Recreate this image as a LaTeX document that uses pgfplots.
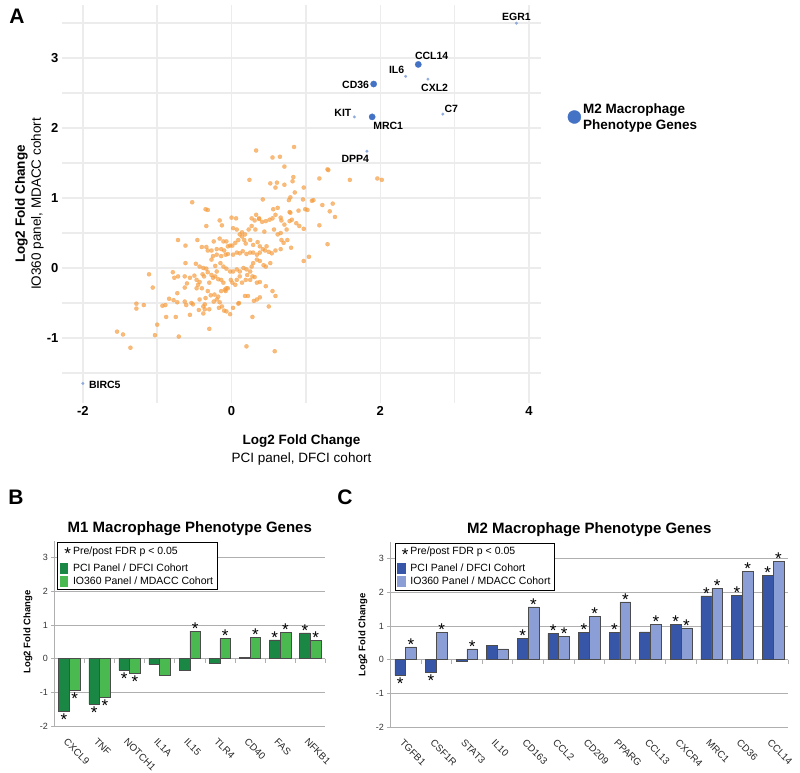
\documentclass[border=0pt]{standalone}
\usepackage{fontspec}
\setmainfont{Liberation Sans}
\usepackage{pgfplots}
\pgfplotsset{compat=1.18}
\definecolor{orangept}{RGB}{245,155,60}
\definecolor{bluebig}{RGB}{68,114,196}
\definecolor{bluesmall}{RGB}{143,170,220}
\definecolor{gridA}{RGB}{236,236,236}
\definecolor{dkgreen}{RGB}{26,136,68}
\definecolor{ltgreen}{RGB}{74,186,80}
\definecolor{dkblue}{RGB}{56,86,168}
\definecolor{ltblue}{RGB}{140,158,214}
\definecolor{gridB}{RGB}{175,175,175}
\newcommand{\lab}{\fontsize{10.5}{10.5}\selectfont\bfseries}
\pgfplotsset{
  barpanel/.style={
    scale only axis, height=185pt,
    xmin=-0.5, ymin=-2, ymax=3.5,
    ybar=0pt,
    ytick={-2,-1,0,1,2,3},
    ymajorgrids, grid style={gridB, line width=0.7pt},
    axis line style={draw=none},
    xtick style={draw=none},
    ytick style={gridB, line width=0.7pt}, tick align=outside, major tick length=3pt, ytick pos=left,
    /pgf/number format/assume math mode=true,
    ticklabel style={font=\fontsize{9}{9}\selectfont, text=black!80},
    xticklabel style={rotate=-45, anchor=north west, inner sep=0pt, yshift=-7pt, xshift=5pt, font=\fontsize{9.8}{9.8}\selectfont, text=black!85},
    ylabel={Log2 Fold Change},
    title style={font=\fontsize{15}{15}\selectfont\bfseries, at={(axis description cs:0.5,1)}, anchor=south, yshift=-4pt},
    ylabel style={font=\fontsize{9.5}{9.5}\selectfont\bfseries, anchor=center},
    point meta=explicit symbolic,
    visualization depends on={rawy \as \rawy},
    nodes near coords,
    every node near coord/.append style={font=\fontsize{17}{17}\selectfont, inner sep=1pt, text=black,
      /utils/exec={\ifdim\rawy pt<0pt \def\myanc{north}\def\mysh{-1.5pt}\else\def\myanc{south}\def\mysh{-4.5pt}\fi},
      anchor=\myanc, yshift=\mysh},
    clip=false,
    legend style={anchor=north west, draw=black, line width=0.9pt, fill=white,
      font=\fontsize{10.5}{11.5}\selectfont, row sep=0pt, inner sep=2pt, cells={anchor=west}},
  }
}
\begin{document}
\begin{tikzpicture}
\useasboundingbox (0pt,0pt) rectangle (800pt,773pt);
\node[font=\fontsize{21}{21}\selectfont\bfseries] at (17pt,757pt) {A};
\node[font=\fontsize{21}{21}\selectfont\bfseries] at (16pt,276pt) {B};
\node[font=\fontsize{21}{21}\selectfont\bfseries] at (345pt,276pt) {C};

% ---------------- Panel A ----------------
\begin{axis}[
  at={(62pt,370pt)}, anchor=south west, scale only axis,
  width=479pt, height=398pt,
  xmin=-2.28, xmax=4.16, ymin=-1.93, ymax=3.76,
  xtick={-2,0,2,4}, minor xtick={-1,1,3},
  ytick={-1,0,1,2,3}, minor ytick={-1.5,-0.5,0.5,1.5,2.5,3.5},
  grid=both,
  major grid style={gridA, line width=1.5pt},
  minor grid style={gridA, line width=1.5pt},
  axis line style={draw=none}, tick style={draw=none},
  /pgf/number format/assume math mode=true,
  ticklabel style={font=\fontsize{13}{13}\selectfont\bfseries},
  xlabel={\textbf{Log2 Fold Change}\\PCI panel, DFCI cohort},
  xlabel style={align=center, font=\fontsize{13.5}{18}\selectfont, at={(axis description cs:0.5,-0.072)}, anchor=north},
  ylabel={\textbf{Log2 Fold Change}\\IO360 panel, MDACC cohort},
  ylabel style={align=center, font=\fontsize{13.5}{16}\selectfont, at={(axis description cs:-0.031,0.5)}, anchor=south},
  clip=false,
  legend style={draw=none, fill=none, at={(1.049,0.7186)}, anchor=west, font=\fontsize{13.5}{16}\selectfont\bfseries, cells={align=left}},
]
\addplot[only marks, mark=*, mark size=2.1pt, color=orangept,
  mark options={draw=orangept, fill=orangept, opacity=0.68, line width=0.2pt}, forget plot] table {
x y
0.84 1.73
0.33 1.68
0.55 1.58
0.65 1.59
0.71 1.45
1.29 1.41
1.30 1.40
0.24 1.26
1.18 1.28
1.59 1.26
1.96 1.28
2.02 1.26
0.52 1.21
0.61 1.22
0.83 1.30
0.82 1.24
0.71 1.19
0.59 1.15
0.97 1.15
0.85 1.08
0.79 1.01
0.77 0.97
0.96 0.98
1.08 0.96
1.10 0.97
1.22 0.90
1.36 0.92
1.32 0.81
1.39 0.73
1.18 0.61
0.97 0.56
1.29 0.34
1.04 0.16
0.97 0.10
0.42 0.98
-0.53 0.94
-0.35 0.84
-0.32 0.83
0.56 0.84
0.62 0.86
0.78 0.80
0.79 0.79
0.90 0.82
0.99 0.84
1.02 0.83
0.33 0.76
0.37 0.71
0.00 0.72
0.06 0.71
-0.16 0.68
-0.13 0.61
-0.34 0.60
-0.62 0.32
0.27 0.71
0.31 0.68
0.37 0.70
0.41 0.66
0.46 0.67
0.51 0.69
0.55 0.71
0.59 0.76
0.66 0.72
0.67 0.68
0.71 0.62
0.74 0.55
0.78 0.67
0.81 0.69
0.87 0.64
0.91 0.60
0.57 0.55
0.62 0.48
0.66 0.50
0.44 0.52
0.27 0.60
0.14 0.51
0.11 0.48
0.02 0.57
0.07 0.55
0.23 0.55
0.18 0.48
0.32 0.55
-0.72 0.40
-0.46 0.40
-0.40 0.30
-0.34 0.30
-0.32 0.25
-0.27 0.25
-0.24 0.38
-0.16 0.42
-0.11 0.38
-0.07 0.38
-0.05 0.31
-0.02 0.32
0.01 0.32
0.05 0.36
0.09 0.40
0.14 0.45
0.17 0.40
0.19 0.35
0.25 0.40
0.29 0.33
0.35 0.37
0.38 0.31
0.42 0.27
0.45 0.25
0.47 0.31
0.50 0.23
0.54 0.21
0.59 0.25
0.66 0.27
0.67 0.40
0.75 0.40
0.70 0.36
0.80 0.29
-0.20 0.27
-0.14 0.27
-0.10 0.25
-0.25 0.17
-0.20 0.19
-0.14 0.17
-0.08 0.19
-0.05 0.20
0.02 0.19
0.07 0.22
0.11 0.21
0.15 0.24
0.20 0.20
0.25 0.22
0.29 0.22
0.34 0.19
0.38 0.22
-0.62 0.07
-0.48 0.06
-0.43 0.02
-0.38 0.00
-0.34 -0.01
-0.32 -0.06
-0.27 0.12
-0.22 0.03
-0.20 -0.05
-0.15 0.07
-0.11 0.02
-0.07 -0.01
-0.02 -0.05
0.02 -0.05
0.07 -0.02
0.11 -0.05
0.16 0.00
0.20 -0.02
0.25 -0.05
0.29 0.07
0.34 0.12
0.38 0.10
0.43 0.04
0.27 0.02
0.46 0.02
0.52 0.07
-1.11 -0.09
-0.79 -0.06
-0.77 -0.14
-0.72 -0.12
-0.63 -0.12
-0.60 -0.22
-0.56 -0.14
-0.50 -0.11
-0.47 -0.17
-0.45 -0.24
-0.43 -0.20
-0.39 -0.09
-0.37 -0.12
-0.30 -0.21
-0.27 -0.10
-0.25 -0.14
-0.22 -0.12
-0.18 -0.16
-0.14 -0.17
-0.11 -0.21
-0.09 -0.31
-0.08 -0.33
-0.05 -0.29
-0.01 -0.17
0.01 -0.21
0.05 -0.24
0.07 -0.17
0.11 -0.12
0.14 -0.21
0.19 -0.17
0.21 -0.10
0.25 -0.17
0.28 -0.12
0.31 -0.13
0.34 -0.21
0.38 -0.20
0.46 -0.26
0.55 -0.33
0.59 -0.40
-1.06 -0.28
-0.63 -0.28
-0.47 -0.29
-0.40 -0.29
-0.32 -0.33
-0.23 -0.38
-0.14 -0.33
-0.07 -0.29
-1.28 -0.51
-1.28 -0.58
-1.18 -0.53
-0.93 -0.54
-0.89 -0.53
-0.84 -0.44
-0.78 -0.46
-0.73 -0.36
-0.73 -0.49
-0.63 -0.48
-0.61 -0.53
-0.54 -0.50
-0.52 -0.52
-0.43 -0.45
-0.38 -0.55
-0.36 -0.52
-0.35 -0.43
-0.28 -0.39
-0.24 -0.48
-0.20 -0.45
-0.18 -0.41
-0.16 -0.49
-0.13 -0.55
-0.17 -0.57
-0.10 -0.61
-0.02 -0.66
-0.07 -0.62
0.02 -0.57
0.09 -0.51
0.10 -0.50
0.18 -0.40
0.22 -0.40
0.30 -0.47
0.34 -0.45
0.38 -0.42
0.50 -0.55
0.28 -0.70
-0.88 -0.70
-0.75 -0.70
-0.56 -0.67
-0.44 -0.60
-0.38 -0.65
-0.36 -0.59
-0.30 -0.59
-1.54 -0.91
-1.46 -0.95
-1.36 -1.14
-1.03 -0.96
-1.00 -0.81
-0.71 -0.98
-0.30 -0.87
0.20 -1.12
0.58 -1.19
};
\addplot[only marks, mark=*, mark size=1.4pt, color=bluesmall,
  mark options={draw=bluesmall, fill=bluesmall, line width=0.2pt}, forget plot] coordinates {
(3.83,3.50) (2.34,2.74) (2.64,2.70) (1.65,2.16) (2.84,2.20) (1.82,1.67) (-2.00,-1.65)};
\addplot[only marks, mark=*, mark size=3.2pt, color=bluebig,
  mark options={draw=bluebig, fill=bluebig, line width=0.2pt},
  legend image code/.code={\fill[bluebig] (-4pt,0pt) circle (6.5pt);}] coordinates {
(2.51,2.91) (1.91,2.63) (1.89,2.16)};
\addlegendentry{M2 Macrophage\\Phenotype Genes}
\node[font=\lab] at (axis cs:3.83,3.50) [yshift=6.7pt] {EGR1};
\node[font=\lab] at (axis cs:2.51,2.91) [xshift=13.4pt, yshift=8.3pt] {CCL14};
\node[font=\lab] at (axis cs:2.34,2.74) [xshift=-9pt, yshift=6.3pt] {IL6};
\node[font=\lab] at (axis cs:1.91,2.63) [xshift=-18pt, yshift=-1pt] {CD36};
\node[font=\lab] at (axis cs:2.64,2.70) [xshift=6.7pt, yshift=-8.6pt] {CXL2};
\node[font=\lab] at (axis cs:1.65,2.16) [xshift=-11.4pt, yshift=4.3pt] {KIT};
\node[font=\lab] at (axis cs:1.89,2.16) [xshift=16pt, yshift=-8.7pt] {MRC1};
\node[font=\lab] at (axis cs:2.84,2.20) [xshift=8.4pt, yshift=5.4pt] {C7};
\node[font=\lab] at (axis cs:1.82,1.67) [xshift=-11.7pt, yshift=-8pt] {DPP4};
\node[font=\lab] at (axis cs:-2.00,-1.65) [xshift=22pt, yshift=-1.7pt] {BIRC5};
\end{axis}

% ---------------- Panel B ----------------
\begin{axis}[barpanel,
  at={(54.3pt,47pt)}, anchor=south west,
  width=271pt, xmax=8.5, bar width=10.7pt,
  xtick={0,...,8},
  xticklabels={CXCL9,TNF,NOTCH1,IL1A,IL15,TLR4,CD40,FAS,NFKB1},
  ylabel style={at={(axis description cs:-0.097,0.508)}},
  title={M1 Macrophage Phenotype Genes},
  legend style={at={(0.011,0.993)}},
]
\addlegendimage{legend image code/.code={\node[inner sep=0pt, font=\fontsize{17}{17}\selectfont] at (4pt,-3.5pt) {*};}}
\addlegendentry{Pre/post FDR p < 0.05}
\addplot[fill=dkgreen, draw=black!70, line width=0.5pt,
  legend image code/.code={\fill[dkgreen] (0pt,-5pt) rectangle (7.5pt,5pt);}] coordinates {
(0,-1.55)[*] (1,-1.35)[*] (2,-0.35)[*] (3,-0.17)[] (4,-0.33)[] (5,-0.13)[] (6,0.04)[] (7,0.56)[*] (8,0.77)[*]};
\addlegendentry{PCI Panel / DFCI Cohort}
\addplot[fill=ltgreen, draw=black!70, line width=0.5pt,
  legend image code/.code={\fill[ltgreen] (0pt,-5pt) rectangle (7.5pt,5pt);}] coordinates {
(0,-0.93)[*] (1,-1.15)[*] (2,-0.42)[*] (3,-0.48)[] (4,0.82)[*] (5,0.60)[*] (6,0.63)[*] (7,0.78)[*] (8,0.54)[*]};
\addlegendentry{IO360 Panel / MDACC Cohort}
\draw[gridB, line width=0.7pt] (rel axis cs:0,0) -- (rel axis cs:0,1);
\pgfplotsinvokeforeach{-0.5,0.5,1.5,2.5,3.5,4.5,5.5,6.5,7.5,8.5}{
  \draw[gridB, line width=0.7pt] (axis cs:#1,0) -- ++(0pt,-4pt);
}
\end{axis}

% ---------------- Panel C ----------------
\begin{axis}[barpanel,
  at={(390.3pt,46pt)}, anchor=south west,
  width=398pt, xmax=12.5, bar width=10.8pt,
  xtick={0,...,12},
  xticklabels={TGFB1,CSF1R,STAT3,IL10,CD163,CCL2,CD209,PPARG,CCL13,CXCR4,MRC1,CD36,CCL14},
  ylabel style={at={(axis description cs:-0.0686,0.497)}},
  title={M2 Macrophage Phenotype Genes},
  legend style={at={(0.011,0.996)}},
]
\addlegendimage{legend image code/.code={\node[inner sep=0pt, font=\fontsize{17}{17}\selectfont] at (4pt,-3.5pt) {*};}}
\addlegendentry{Pre/post FDR p < 0.05}
\addplot[fill=dkblue, draw=black!70, line width=0.5pt,
  legend image code/.code={\fill[dkblue] (0pt,-5pt) rectangle (7.5pt,5pt);}] coordinates {
(0,-0.47)[*] (1,-0.36)[*] (2,-0.04)[] (3,0.42)[] (4,0.63)[*] (5,0.78)[*] (6,0.82)[*] (7,0.82)[*] (8,0.83)[] (9,1.06)[*] (10,1.90)[*] (11,1.92)[*] (12,2.50)[*]};
\addlegendentry{PCI Panel / DFCI Cohort}
\addplot[fill=ltblue, draw=black!70, line width=0.5pt,
  legend image code/.code={\fill[ltblue] (0pt,-5pt) rectangle (7.5pt,5pt);}] coordinates {
(0,0.38)[*] (1,0.82)[*] (2,0.32)[*] (3,0.32)[] (4,1.57)[*] (5,0.70)[*] (6,1.29)[*] (7,1.72)[*] (8,1.05)[*] (9,0.95)[*] (10,2.13)[*] (11,2.62)[*] (12,2.92)[*]};
\addlegendentry{IO360 Panel / MDACC Cohort}
\draw[gridB, line width=0.7pt] (rel axis cs:0,0) -- (rel axis cs:0,1);
\pgfplotsinvokeforeach{-0.5,0.5,1.5,2.5,3.5,4.5,5.5,6.5,7.5,8.5,9.5,10.5,11.5,12.5}{
  \draw[gridB, line width=0.7pt] (axis cs:#1,0) -- ++(0pt,-4pt);
}
\end{axis}
\end{tikzpicture}
\end{document}
